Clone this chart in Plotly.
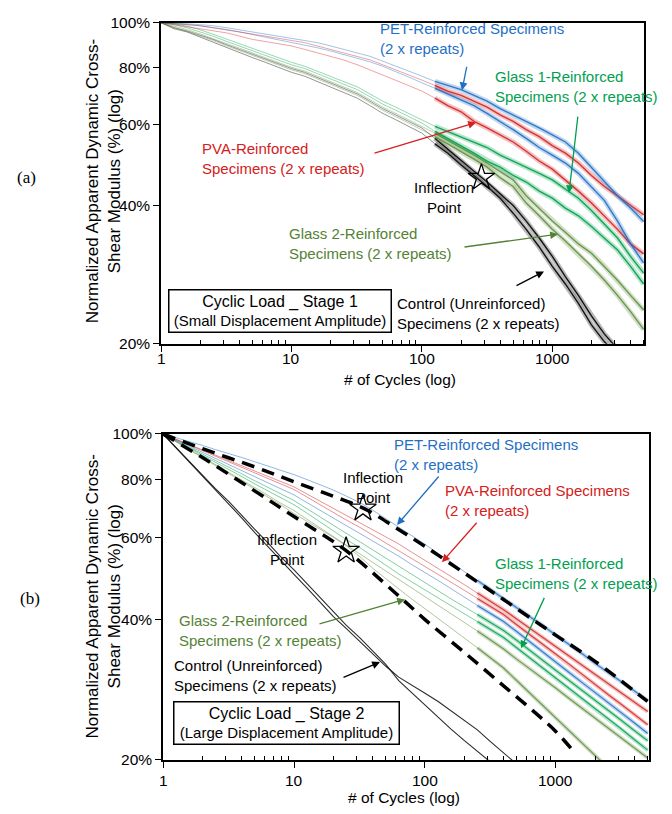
import math
import plotly.graph_objects as go

W, H = 672, 814

# ---------------- data ----------------
cycles = [1, 1.26, 1.58, 2, 2.5, 3.2, 4, 5, 6.3, 7.9, 10, 12.6, 15.8, 20, 25, 32, 40, 50, 63, 79,
          100, 126, 158, 200, 251, 316, 398, 501, 631, 794, 1000, 1259, 1585, 1995, 2512, 3162, 3981, 5012]

# Stage 1 (a) - normalized modulus (%)
a_pet1 = [100, 99.8, 99.5, 99, 98.5, 97.5, 96.5, 95.5, 94.5, 93.5, 92.5, 91.5, 90.5, 89, 87.5, 86, 84.5, 82.5, 80.5, 78.5,
          76.5, 74.5, 73, 71.5, 69.5, 67.5, 65, 63, 61, 59, 57, 55, 52, 48.5, 45, 42, 39.5, 36.9]
a_pet2 = [100, 99.6, 99.1, 98.4, 97.6, 96.6, 95.5, 94.3, 93.1, 91.9, 90.7, 89.5, 88.2, 86.8, 85.3, 83.8, 82.2, 80.4, 78.4, 76.2,
          74, 72, 70, 68, 66, 63.5, 61, 58.5, 56, 53.5, 51.5, 49.5, 47, 44, 41, 37, 33, 30]
a_pva1 = [100, 99.5, 99, 98.5, 97.5, 96.5, 95.5, 94.5, 93.5, 92.5, 91.5, 90.5, 89, 87.5, 86, 84.5, 83, 81, 79, 77,
          75, 73, 71, 69.5, 67.5, 65.5, 63, 61, 58.5, 56.5, 54, 52, 49.5, 46.5, 44, 42, 40, 38.2]
a_pva2 = [100, 99, 98, 97, 96, 95, 93.5, 92, 91, 90, 89, 87.5, 86, 84.5, 83, 81, 79, 77, 75, 73,
          71, 68.5, 66, 64, 61, 59, 57, 55, 52.5, 50, 48, 45.5, 43, 40.5, 38, 35.5, 33, 31.4]
a_gl1_1 = [100, 99.5, 98.3, 96.5, 94.4, 92, 90, 88, 86, 84, 82, 80.4, 78.5, 76.5, 74.5, 72.5, 70, 67.5, 65.5, 63.5,
           61.5, 59.5, 58, 56.5, 55, 53.5, 51.5, 50, 48.5, 47, 45.5, 43.5, 41.5, 39, 36.5, 34, 31, 28.5]
a_gl1_2 = [100, 99, 97.5, 95.5, 93.5, 91, 89, 87, 85, 83, 81, 79.5, 77.5, 75.5, 73.5, 71.5, 69, 66.5, 64.5, 62.5,
           60.5, 58, 56, 54, 52, 50, 48.5, 46.5, 45, 43, 41.5, 39.5, 38, 36, 34, 32, 29.5, 27]
a_gl2_1 = [100, 98.3, 96.6, 94.5, 92.5, 90, 88, 86, 84, 82, 80, 78.5, 76.5, 74.5, 72.5, 70.5, 68, 65.5, 63.5, 61.5,
           59.5, 57.5, 55.5, 53.5, 51.5, 49.5, 47.5, 45.5, 42, 39.5, 37, 35, 33, 31.5, 29.5, 27.5, 25.5, 23.7]
a_gl2_2 = [100, 97.8, 95.8, 93.5, 91.5, 89, 87, 85, 83, 81, 79, 77.5, 75.5, 73.5, 71.5, 69.5, 67, 64.5, 62.5, 60.5,
           58.5, 56.5, 54.5, 52.5, 50.5, 48.5, 46, 44, 40.5, 38, 35.5, 33.5, 31.5, 29.5, 27.5, 25.5, 23.5, 21.5]
a_ctl_1 = [100, 97.5, 96, 94, 92, 89.5, 87.5, 85.5, 83.5, 81.5, 79.5, 78, 76, 74, 72, 70, 67.5, 65, 63, 61,
           59, 56, 53, 50, 47.5, 45, 42.5, 40, 37, 34, 31, 28, 25.5, 23, 21, 19.5]
a_ctl_2 = [100, 97, 95.5, 93, 90.5, 88, 86, 84, 82, 80, 78, 76.5, 74.5, 72.5, 70.5, 68.5, 66, 63.5, 61.5, 59.5,
           57.5, 54.5, 52, 49, 46.5, 44, 41.5, 38.5, 35.5, 32.5, 29.5, 27, 24.5, 22, 20.2, 19]
a_inflection_x = [286]
a_inflection_y = [46]

# Stage 2 (b)
b_pet1 = [100, 98.2, 96.3, 94.5, 92.6, 90.8, 89, 87.2, 85.4, 83.6, 81.8, 79.8, 77.8, 75.8, 73.6, 71.2, 68.6, 65.9, 63.2, 60.5,
          58, 55.4, 53, 50.7, 48.5, 46.4, 44.5, 42.5, 40.6, 38.8, 37, 35.4, 33.8, 32.2, 30.8, 29.4, 28.1, 26.8]
b_pet2 = [100, 97, 94.2, 91.4, 88.7, 86.1, 83.5, 81, 78.6, 76.3, 74, 71.2, 68.6, 66.1, 63.6, 61.2, 59, 56.8, 54.7, 52.5,
          50.5, 48.5, 46.6, 44.7, 42.9, 41.2, 39.6, 37.7, 35.8, 34.1, 32.4, 30.8, 29.3, 27.9, 26.5, 25.2, 24, 22.8]
b_pva1 = [100, 97.4, 94.9, 92.5, 90.1, 87.8, 85.5, 83.3, 81.2, 79.1, 77, 74.3, 71.8, 69.3, 66.9, 64.6, 62.3, 60.2, 58.1, 55.8,
          53.6, 51.5, 49.4, 47.5, 45.6, 43.8, 42, 40.1, 38.3, 36.6, 35, 33.4, 31.9, 30.5, 29.1, 27.8, 26.6, 25.4]
b_pva2 = [100, 97.3, 94.6, 92.1, 89.6, 87.2, 84.8, 82.5, 80.2, 78.1, 76, 73.2, 70.5, 67.9, 65.4, 63, 60.7, 58.4, 56.3, 54.1,
          52, 50, 48.1, 46.2, 44.4, 42.7, 41, 39, 37.1, 35.4, 33.7, 32.1, 30.5, 29, 27.6, 26.3, 25, 23.8]
b_gl1_1 = [100, 96.8, 93.6, 90.6, 87.7, 84.8, 82.1, 79.4, 76.9, 74.4, 72, 69.1, 66.4, 63.7, 61.2, 58.7, 56.4, 54.1, 51.9, 49.9,
           48, 46.1, 44.3, 42.6, 41, 39.4, 37.9, 36.1, 34.3, 32.7, 31.1, 29.6, 28.2, 26.8, 25.5, 24.3, 23.1, 22]
b_gl1_2 = [100, 96.6, 93.2, 90, 86.9, 83.9, 81, 78.2, 75.5, 73, 70.5, 67.6, 64.7, 62, 59.4, 57, 54.6, 52.3, 50.1, 48.2,
           46.3, 44.5, 42.8, 41.2, 39.6, 38.1, 36.6, 34.8, 33.1, 31.5, 29.9, 28.5, 27.1, 25.7, 24.5, 23.3, 22.1, 21]
b_gl2_1 = [100, 96.3, 92.7, 89.3, 86, 82.8, 79.7, 76.7, 73.9, 71.1, 68.5, 65.6, 62.9, 60.3, 57.8, 55.4, 53.1, 50.9, 48.8, 46.8,
           44.8, 42.9, 41.1, 39.4, 37.8, 36.2, 34.6, 32.9, 31.4, 29.9, 28.5, 27.1, 25.8, 24.5, 23.4, 22.3, 21.2, 20.2]
b_gl2_2 = [100, 96.2, 92.5, 89, 85.6, 82.3, 79.2, 76.2, 73.3, 70.5, 67.5, 65, 62.5, 60, 57.6, 54.5, 51.5, 49, 46.5, 44.3,
           42.2, 40.2, 38.3, 36.5, 34.8, 33.1, 31.5, 29.6, 27.8, 26.2, 24.6, 23.1, 21.7, 20.4, 19.2]
b_ctl_1 = [100, 93.3, 87.1, 81.2, 75.8, 70.7, 66, 61.5, 57.5, 53.6, 50, 46.7, 43.5, 40.6, 38.3, 35.9, 33.7, 31.8, 30.1, 28.9,
           27.8, 26.7, 25.5, 24.3, 23.2, 21.9, 20.7, 19.6]
b_ctl_2 = [100, 93.5, 87.4, 81.7, 76.4, 71.5, 66.8, 62.5, 58.5, 54.6, 51.1, 47.7, 44.5, 41.6, 38.9, 36.5, 34.2, 32.1, 29.6, 27.9,
           26.3, 24.7, 23.3, 22, 20.9, 19.8]
b_trend_upper_x = [1, 2, 5, 10, 20, 35, 60, 100, 200, 400, 700, 1000, 2000, 5000]
b_trend_upper_y = [100, 93, 85, 79, 73.5, 69, 62.9, 57.4, 50.3, 44.1, 39.6, 37, 32.5, 26.7]
b_trend_lower_x = [1, 2, 5, 10, 25, 60, 100, 200, 400, 700, 1000, 1355]
b_trend_lower_y = [100, 89, 75.5, 66.5, 56.2, 45.5, 40, 34, 28.8, 25.2, 23, 20.9]
b_inflection_x = [33.6, 25]
b_inflection_y = [69.2, 56.2]

x_ticks = [1, 10, 100, 1000]
x_ticktext = ["1", "10", "100", "1000"]
y_ticks = [20, 40, 60, 80, 100]
y_ticktext = ["20%", "40%", "60%", "80%", "100%"]

# ---------------- styles ----------------
BLUE = (31, 111, 197)
RED = (212, 36, 36)
GREEN = (0, 160, 74)
OLIVE = (95, 143, 62)
BLACK = (0, 0, 0)


def rgba(c, a):
    return "rgba(%d,%d,%d,%.2f)" % (c[0], c[1], c[2], a)


def P(px, py):
    return px / W, 1 - py / H


fig = go.Figure()


def line_trace(xs, ys, xa, ya, color, width, dash=None, shape="linear"):
    fig.add_trace(go.Scatter(x=xs, y=ys, mode="lines", xaxis=xa, yaxis=ya,
                             line=dict(color=color, width=width, dash=dash, shape=shape),
                             hoverinfo="skip", showlegend=False))


def add_series(xa, ya, ys, col, split, early_alpha, band_w, band_alpha, core_w, core_alpha):
    n = len(ys)
    xs = cycles[:n]
    k = min(split, n - 1)
    line_trace(xs[:k + 1], ys[:k + 1], xa, ya, rgba(col, early_alpha), 1.0)
    line_trace(xs[k:], ys[k:], xa, ya, rgba(col, band_alpha), band_w)
    line_trace(xs[k:], ys[k:], xa, ya, rgba(col, core_alpha), core_w)


# panel a
for ys, col in [(a_ctl_1, BLACK), (a_ctl_2, BLACK), (a_gl2_1, OLIVE), (a_gl2_2, OLIVE),
                (a_gl1_1, GREEN), (a_gl1_2, GREEN), (a_pva2, RED), (a_pet2, BLUE),
                (a_pva1, RED), (a_pet1, BLUE)]:
    add_series("x", "y", ys, col, 21, 0.42, 5, 0.28, 1.4, 0.9)

STAR = dict(symbol="star-open", size=20, color="black", line=dict(width=1.3))
fig.add_trace(go.Scatter(x=a_inflection_x, y=a_inflection_y, mode="markers", xaxis="x", yaxis="y",
                         marker=STAR, showlegend=False, hoverinfo="skip"))

# panel b
for ys, col in [(b_gl2_2, OLIVE), (b_gl2_1, OLIVE), (b_gl1_2, GREEN), (b_gl1_1, GREEN),
                (b_pet2, BLUE), (b_pva2, RED), (b_pva1, RED), (b_pet1, BLUE)]:
    add_series("x2", "y2", ys, col, 24, 0.5, 4, 0.28, 1.2, 0.85)

for ys in (b_ctl_1, b_ctl_2):
    line_trace(cycles[:len(ys)], ys, "x2", "y2", "rgba(20,20,20,0.9)", 1.1)

for tx, ty in [(b_trend_upper_x, b_trend_upper_y), (b_trend_lower_x, b_trend_lower_y)]:
    line_trace(tx, ty, "x2", "y2", "black", 3.5, dash="13px,8px", shape="spline")

fig.add_trace(go.Scatter(x=b_inflection_x, y=b_inflection_y, mode="markers", xaxis="x2", yaxis="y2",
                         marker=STAR, showlegend=False, hoverinfo="skip"))

# ---------------- axes ----------------
FONT = "Liberation Sans, Arial, sans-serif"
minor_vals = [m * 10 ** d for d in range(4) for m in range(2, 10) if m * 10 ** d <= 5000]


def xaxis_cfg(px0, px1, rng_max):
    return dict(type="log", range=[0, rng_max], domain=[px0 / W, px1 / W],
                showline=True, linecolor="black", linewidth=1.5, mirror=True,
                ticks="outside", ticklen=6, tickwidth=1.3, tickcolor="black",
                tickvals=x_ticks, showticklabels=False, showgrid=False, zeroline=False,
                minor=dict(tickvals=minor_vals, ticks="inside", ticklen=4, tickwidth=1.1,
                           tickcolor="black", showgrid=False))


def yaxis_cfg(py0, py1):
    return dict(type="log", range=[math.log10(20), 2], domain=[1 - py1 / H, 1 - py0 / H],
                showline=True, linecolor="black", linewidth=1.5, mirror=True,
                ticks="outside", ticklen=6, tickwidth=1.3, tickcolor="black",
                tickvals=y_ticks, ticktext=y_ticktext, showgrid=False, zeroline=False,
                tickfont=dict(family=FONT, size=15.5, color="black"))


xa = xaxis_cfg(161, 644, 3.703)
xa["anchor"] = "y"
ya = yaxis_cfg(14, 342)
ya["anchor"] = "x"
xb = xaxis_cfg(163, 649, 3.71)
xb["anchor"] = "y2"
yb = yaxis_cfg(434, 767)
yb["anchor"] = "x2"

# ---------------- annotations ----------------
ann = []
TC_BLUE = "#1F6FC5"
TC_RED = "#D42020"
TC_GREEN = "#00A050"
TC_OLIVE = "#548235"
FS = 15


def text(px, py, s, color, anchor="left", size=FS, family=FONT, align="left"):
    x, y = P(px, py)
    ann.append(dict(x=x, y=y, xref="paper", yref="paper", text=s, showarrow=False,
                    xanchor=anchor, yanchor="middle", align=align,
                    font=dict(family=family, size=size, color=color)))


def arrow(hx, hy, tx, ty, color):
    x, y = P(hx, hy)
    ann.append(dict(x=x, y=y, xref="paper", yref="paper", text="", showarrow=True,
                    ax=tx - hx, ay=ty - hy, arrowhead=2, arrowsize=1.2, arrowwidth=1.3,
                    arrowcolor=color, standoff=0))


def box(cx, cy, w, h, l1, l2):
    x, y = P(cx, cy)
    ann.append(dict(x=x, y=y, xref="paper", yref="paper", showarrow=False,
                    text="<span style='font-size:16px'>%s</span><br>%s" % (l1, l2),
                    width=w, height=h, bordercolor="black", borderwidth=1.5, borderpad=2,
                    bgcolor="white", align="center", xanchor="center", yanchor="middle",
                    font=dict(family=FONT, size=15, color="black")))


# x tick labels (placed at the axis values)
for xref_name, py in (("x", 357), ("x2", 788)):
    for v, t in zip(x_ticks, x_ticktext):
        ann.append(dict(x=math.log10(v), y=1 - py / H, xref=xref_name, yref="paper", text=t,
                        showarrow=False, xanchor="center", yanchor="middle",
                        font=dict(family=FONT, size=15.5, color="black")))

# panel (a)
text(378, 30, "PET-Reinforced Specimens<br>(2 x repeats)", TC_BLUE)
arrow(462, 83, 467, 58, TC_BLUE)
text(493, 79, "Glass 1-Reinforced<br>Specimens (2 x repeats)", TC_GREEN)
arrow(569, 188, 578, 110, TC_GREEN)
text(200, 153, "PVA-Reinforced<br>Specimens (2 x repeats)", TC_RED)
arrow(476, 116, 373, 147, TC_RED)
text(444, 193, "Inflection<br>Point", "black", anchor="center", align="center")
text(287, 240, "Glass 2-Reinforced<br>Specimens (2 x repeats)", TC_OLIVE)
arrow(558, 230, 463, 243, TC_OLIVE)
text(395, 311, "Control (Unreinforced)<br>Specimens (2 x repeats)", "black")
arrow(544, 268, 515, 283, "black")
box(279.5, 308.5, 217, 37, "Cyclic Load _ Stage 1", "(Small Displacement Amplitude)")

# panel (b)
text(392, 455, "PET-Reinforced Specimens<br>(2 x repeats)", TC_BLUE)
arrow(397, 527, 440, 477, TC_BLUE)
text(443, 502, "PVA-Reinforced Specimens<br>(2 x repeats)", TC_RED)
arrow(442, 565, 478, 524, TC_RED)
text(493, 577, "Glass 1-Reinforced<br>Specimens (2 x repeats)", TC_GREEN)
arrow(521, 653, 545, 601, TC_GREEN)
text(373, 489, "Inflection<br>Point", "black", anchor="center", align="center")
text(287, 552, "Inflection<br>Point", "black", anchor="center", align="center")
text(177, 635, "Glass 2-Reinforced<br>Specimens (2 x repeats)", TC_OLIVE)
arrow(405, 603, 318, 628, TC_OLIVE)
text(172, 681, "Control (Unreinforced)<br>Specimens (2 x repeats)", "black")
arrow(380, 667, 342, 683, "black")
box(286, 729.5, 220, 37, "Cyclic Load _ Stage 2", "(Large Displacement Amplitude)")

# axis titles
YT = "Normalized Apparent Dynamic Cross-<br>Shear Modulus (%) (log)"
for cy in (176, 600):
    x, y = P(103, cy)
    ann.append(dict(x=x, y=y, xref="paper", yref="paper", text=YT, showarrow=False, textangle=-90,
                    xanchor="center", yanchor="middle", align="center",
                    font=dict(family=FONT, size=17, color="black")))
text(400, 378, "# of Cycles (log)", "black", anchor="center", size=15.5)
text(404, 805, "# of Cycles (log)", "black", anchor="center", size=15.5)
text(26, 172, "(a)", "black", anchor="center", size=17, family="Liberation Serif, Times New Roman, serif")
text(30, 602, "(b)", "black", anchor="center", size=17, family="Liberation Serif, Times New Roman, serif")

fig.update_layout(width=W, height=H, margin=dict(l=0, r=0, t=0, b=0),
                  paper_bgcolor="white", plot_bgcolor="white", showlegend=False,
                  xaxis=xa, yaxis=ya, xaxis2=xb, yaxis2=yb, annotations=ann,
                  font=dict(family=FONT, color="black"))

fig.write_html("out.html")
